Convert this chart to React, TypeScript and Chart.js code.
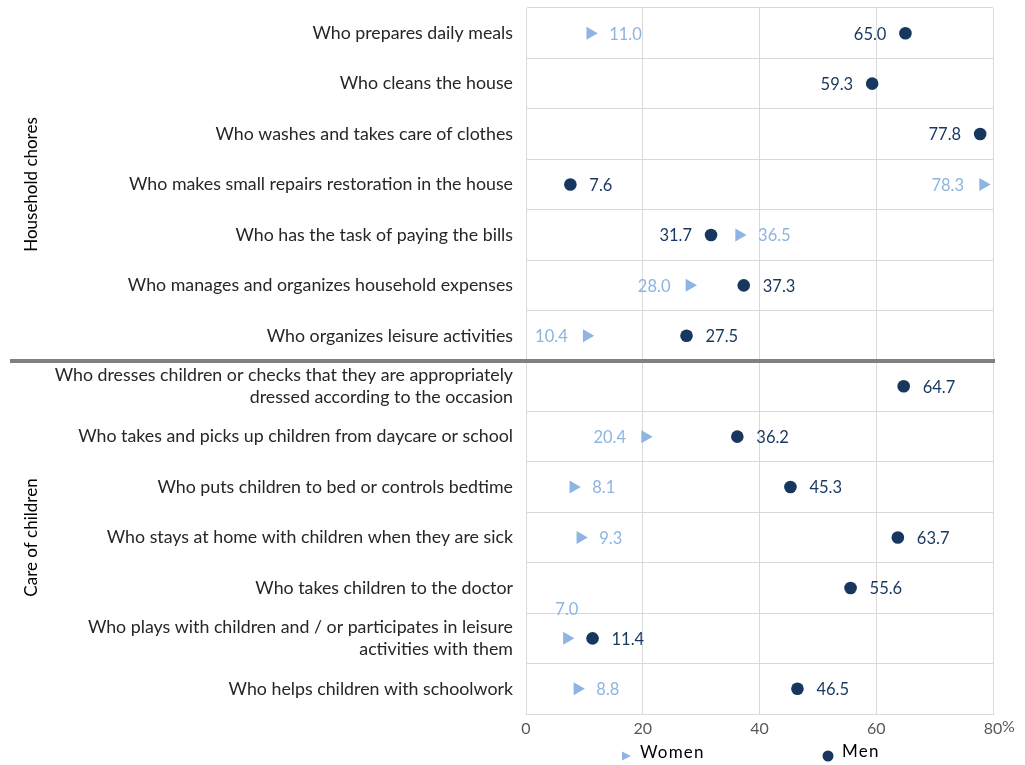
import React, { useEffect, useRef } from "react";
import { Chart, registerables } from "chart.js";

Chart.register(...registerables);

// Row labels, top to bottom
const categories: (string | string[])[] = [
  "Who prepares daily meals",
  "Who cleans the house",
  "Who washes and takes care of clothes",
  "Who makes small repairs restoration in the house",
  "Who has the task of paying the bills",
  "Who manages and organizes household expenses",
  "Who organizes leisure activities",
  ["Who dresses children or checks that they are appropriately", "dressed according to the occasion"],
  "Who takes and picks up children from daycare or school",
  "Who puts children to bed or controls bedtime",
  "Who stays at home with children when they are sick",
  "Who takes children to the doctor",
  ["Who plays with children and / or participates in leisure", "activities with them"],
  "Who helps children with schoolwork",
];

const women: (number | null)[] = [11.0, null, null, 78.3, 36.5, 28.0, 10.4, null, 20.4, 8.1, 9.3, null, 7.0, 8.8];
const men: (number | null)[] = [65.0, 59.3, 77.8, 7.6, 31.7, 37.3, 27.5, 64.7, 36.2, 45.3, 63.7, 55.6, 11.4, 46.5];

// Where each value label sits relative to its marker
const womenLabelSide = ["right", "right", "right", "left", "right", "left", "left", "right", "left", "right", "right", "right", "above", "right"];
const menLabelSide = ["left", "left", "left", "right", "left", "right", "right", "right", "right", "right", "right", "right", "right", "right"];

const groups = [
  { name: "Household chores", from: 0, to: 6 },
  { name: "Care of children", from: 7, to: 13 },
];

const xTicks = [0, 20, 40, 60, 80];

const WOMEN_COLOR = "#8db4e2";
const MEN_COLOR = "#17375e";
const FONT = "Lato, 'Open Sans', sans-serif";

const decorPlugin = {
  id: "decor",
  afterDatasetsDraw(chart: any) {
    const ctx = chart.ctx as CanvasRenderingContext2D;
    ctx.save();
    ctx.font = `16.5px ${FONT}`;
    ctx.textBaseline = "middle";
    chart.data.datasets.forEach((ds: any, di: number) => {
      const meta = chart.getDatasetMeta(di);
      const sides = di === 0 ? womenLabelSide : menLabelSide;
      ctx.fillStyle = di === 0 ? WOMEN_COLOR : MEN_COLOR;
      meta.data.forEach((pt: any, i: number) => {
        const v = ds.data[i];
        if (v == null) return;
        const txt = v.toFixed(1);
        const side = sides[i];
        if (side === "right") {
          ctx.textAlign = "left";
          ctx.fillText(txt, pt.x + 19, pt.y + 1);
        } else if (side === "left") {
          ctx.textAlign = "right";
          ctx.fillText(txt, pt.x - 19, pt.y + 1);
        } else {
          ctx.textAlign = "center";
          ctx.fillText(txt, pt.x, pt.y - 29);
        }
      });
    });
    ctx.restore();
  },
  afterDraw(chart: any) {
    const ctx = chart.ctx as CanvasRenderingContext2D;
    const y = chart.scales.y;
    const x = chart.scales.x;
    const area = chart.chartArea;
    ctx.save();

    // thick separator between the two groups
    const sepY = (y.getPixelForValue(6) + y.getPixelForValue(7)) / 2;
    ctx.strokeStyle = "#808080";
    ctx.lineWidth = 4;
    ctx.beginPath();
    ctx.moveTo(10, sepY);
    ctx.lineTo(area.right + 2, sepY);
    ctx.stroke();

    // rotated group names
    ctx.fillStyle = "#000000";
    ctx.font = `17px ${FONT}`;
    ctx.textAlign = "center";
    ctx.textBaseline = "middle";
    const half = (y.getPixelForValue(1) - y.getPixelForValue(0)) / 2;
    groups.forEach((g) => {
      const cy = (y.getPixelForValue(g.from) - half + y.getPixelForValue(g.to) + half) / 2;
      ctx.save();
      ctx.translate(32, cy);
      ctx.rotate(-Math.PI / 2);
      ctx.fillText(g.name, 0, 0);
      ctx.restore();
    });

    // unit after the last tick
    ctx.fillStyle = "#595959";
    ctx.font = `16px ${FONT}`;
    ctx.textAlign = "left";
    ctx.fillText("%", x.getPixelForValue(80) + 9, area.bottom + 13);

    // legend
    ctx.fillStyle = WOMEN_COLOR;
    ctx.beginPath();
    ctx.moveTo(622, 751.5);
    ctx.lineTo(631, 756);
    ctx.lineTo(622, 760.5);
    ctx.closePath();
    ctx.fill();
    ctx.fillStyle = MEN_COLOR;
    ctx.beginPath();
    ctx.arc(828, 756, 5.5, 0, Math.PI * 2);
    ctx.fill();
    ctx.fillStyle = "#000000";
    ctx.font = `17px ${FONT}`;
    (ctx as any).letterSpacing = "1.2px";
    ctx.textAlign = "left";
    ctx.fillText("Women", 640, 753);
    ctx.fillText("Men", 842, 752);
    ctx.restore();
  },
};

export default function App() {
  const canvasRef = useRef<HTMLCanvasElement | null>(null);

  useEffect(() => {
    document.body.style.margin = "0";
    const canvas = canvasRef.current;
    if (!canvas) return;
    const chart = new Chart(canvas, {
      type: "line",
      data: {
        labels: categories,
        datasets: [
          {
            label: "Women",
            data: women,
            showLine: false,
            pointStyle: "triangle",
            rotation: 90,
            pointRadius: 7.5,
            pointBackgroundColor: WOMEN_COLOR,
            pointBorderColor: WOMEN_COLOR,
            pointBorderWidth: 0,
          },
          {
            label: "Men",
            data: men,
            showLine: false,
            pointStyle: "circle",
            pointRadius: 6.3,
            pointBackgroundColor: MEN_COLOR,
            pointBorderColor: MEN_COLOR,
            pointBorderWidth: 0,
          },
        ],
      },
      options: {
        indexAxis: "y",
        animation: false,
        responsive: true,
        maintainAspectRatio: false,
        layout: { padding: { top: 8, right: 32, bottom: 21, left: 0 } },
        plugins: {
          legend: { display: false },
          tooltip: { enabled: false },
        },
        scales: {
          x: {
            type: "linear",
            min: 0,
            max: 80,
            afterBuildTicks: (scale: any) => {
              scale.ticks = xTicks.map((v) => ({ value: v }));
            },
            afterFit: (scale: any) => {
              scale.height = 30;
              scale.paddingLeft = 0;
              scale.paddingRight = 0;
            },
            grid: { color: "#d9d9d9", lineWidth: 1, drawTicks: false },
            border: { color: "#d9d9d9" },
            ticks: {
              color: "#595959",
              font: { family: FONT, size: 16 },
              padding: 5,
              callback: (v: any) => String(v),
            },
          },
          y: {
            type: "category",
            offset: true,
            afterFit: (scale: any) => {
              scale.width = 526;
              scale.paddingTop = 0;
              scale.paddingBottom = 0;
            },
            grid: { offset: true, color: "#d9d9d9", lineWidth: 1, drawTicks: false },
            border: { color: "#d9d9d9" },
            ticks: {
              color: "#262626",
              font: { family: FONT, size: 17.8, lineHeight: 1.22 },
              padding: 13,
              autoSkip: false,
            },
          },
        },
      },
      plugins: [decorPlugin],
    });
    return () => chart.destroy();
  }, []);

  return (
    <div style={{ width: 1025, height: 765, position: "relative" }}>
      <canvas ref={canvasRef} />
    </div>
  );
}
